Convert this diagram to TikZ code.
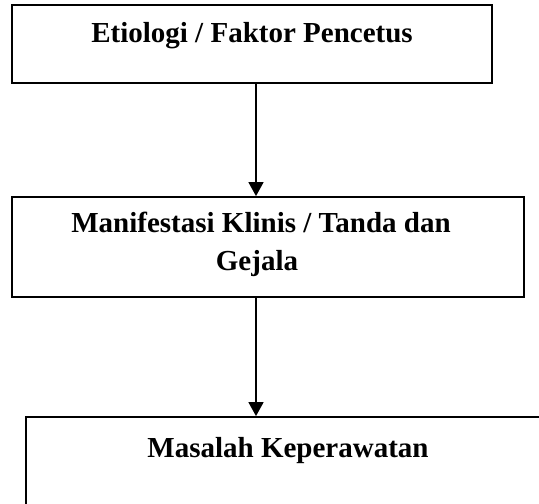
\documentclass[tikz,border=0pt]{standalone}
\usepackage{fontspec}
\setmainfont{Liberation Serif}
\usetikzlibrary{arrows.meta}
\begin{document}
\begin{tikzpicture}[x=1pt,y=-1pt,
  box/.style={draw=black,line width=1.8pt,rectangle,inner sep=0pt},
  lbl/.style={font=\fontsize{29}{38}\selectfont\bfseries,inner sep=0pt,anchor=base},
  arr/.style={line width=1.6pt,-{Triangle[length=14pt,width=15pt]}}]
\useasboundingbox (0,0) rectangle (539,504);
\clip (0,0) rectangle (539,504);
\node[box,minimum width=480pt,minimum height=78pt] (b1) at (252,44) {};
\node[lbl] (t1) at (252,42) {Etiologi / Faktor Pencetus};
\node[box,minimum width=512pt,minimum height=100pt] (b2) at (268,247) {};
\node[lbl] (t2a) at (261,232) {Manifestasi Klinis / Tanda dan};
\node[lbl] (t2b) at (257,270) {Gejala};
\node[box,minimum width=524pt,minimum height=110pt] (b3) at (288,472) {};
\node[lbl] (t3) at (288,457) {Masalah Keperawatan};
\draw[arr] ([xshift=4pt]b1.south) -- ([xshift=-12pt]b2.north);
\draw[arr] ([xshift=-12pt]b2.south) -- ([xshift=-32pt]b3.north);
\end{tikzpicture}
\end{document}
